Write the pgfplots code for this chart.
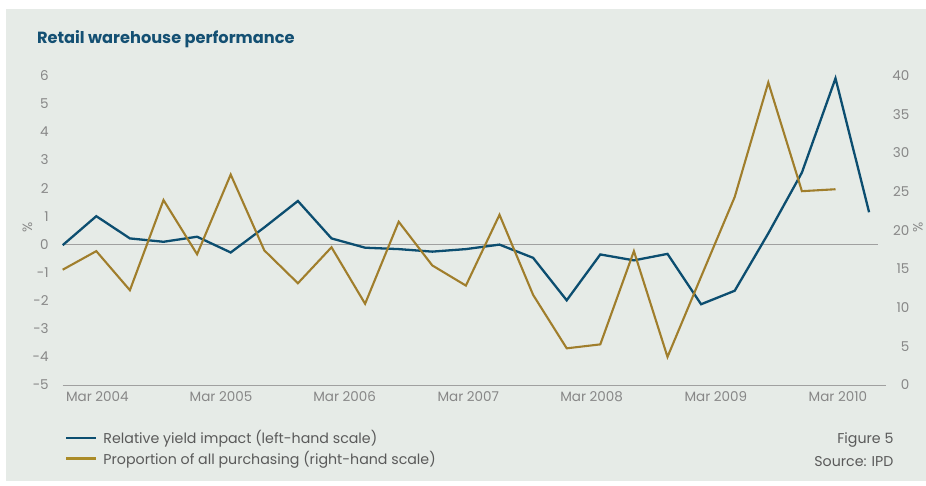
\documentclass[border=0pt]{standalone}
\usepackage{fontspec}
\setmainfont{Poppins}
\usepackage{pgfplots}
\usepackage{pgfplotstable}
\pgfplotsset{compat=1.18}
\definecolor{bg}{RGB}{230,235,231}
\definecolor{cblue}{RGB}{12,78,112}
\definecolor{cgold}{RGB}{160,126,44}
\definecolor{tgray}{RGB}{135,135,135}
\definecolor{lgray}{RGB}{160,160,160}
\definecolor{ttl}{RGB}{20,80,115}
\definecolor{txt}{RGB}{90,90,90}

\pgfplotstableread{
x y
0 -0.03
1 1.00
2 0.21
3 0.09
4 0.27
5 -0.29
6 0.60
7 1.54
8 0.21
9 -0.12
10 -0.17
11 -0.26
12 -0.17
13 -0.01
14 -0.48
15 -1.99
16 -0.36
17 -0.57
18 -0.34
19 -2.13
20 -1.65
21 0.39
22 2.55
23 5.90
24 1.14
}\yieldtab

\pgfplotstableread{
x y
0 14.9
1 17.3
2 12.25
3 23.9
4 16.9
5 27.2
6 17.4
7 13.15
8 17.8
9 10.5
10 21.1
11 15.45
12 12.85
13 22.0
14 11.65
15 4.74
16 5.25
17 17.3
18 3.63
19 14.0
20 24.3
21 39.1
22 25.05
23 25.3
}\proptab

\pgfplotsset{
  common/.style={
    scale only axis, width=823.2pt, height=309.5pt,
    at={(62.7pt,100pt)}, anchor=south west,
    xmin=0, xmax=24.5,
    axis line style={draw=none},
    major tick length=0pt,
    tick label style={font=\fontsize{13.5}{15}\selectfont, text=tgray},
    clip=false,
  }
}

\begin{document}
\begin{tikzpicture}
\useasboundingbox (0pt,0pt) rectangle (926pt,485pt);
\fill[white] (0pt,0pt) rectangle (926pt,485pt);
\fill[bg] (6pt,4pt) rectangle (926pt,476pt);
\node[anchor=base west, font=\bfseries\fontsize{16.2}{18}\selectfont, text=ttl] at (33.5pt,441pt) {Retail warehouse performance};

\begin{axis}[common,
  axis y line*=left, axis x line*=bottom,
  ymin=-5, ymax=6,
  ytick={-5,-4,-3,-2,-1,0,1,2,3,4,5,6},
  yticklabels={-5,-4,-3,-2,-1,0,1,2,3,4,5,6},
  yticklabel style={xshift=-10.5pt},
  xtick={1.03,4.71,8.39,12.07,15.74,19.44,23.07},
  xticklabels={Mar 2004,Mar 2005,Mar 2006,Mar 2007,Mar 2008,Mar 2009,Mar 2010},
  xticklabel style={yshift=-3.5pt},
  ylabel={\%},
  every axis y label/.style={at={(axis description cs:-0.043,0.51)}, anchor=center, rotate=90, font=\fontsize{13.5}{15}\selectfont, text=tgray},
  legend style={at={(axis description cs:-0.001,-0.134)}, anchor=north west, draw=none, fill=none, font=\fontsize{14.2}{16}\selectfont, text=txt, row sep=1.5pt},
  legend cell align=left,
  legend image code/.code={\draw[#1, line width=2.5pt] (0pt,0pt) -- (30pt,0pt); \path (34pt,0pt);},
]
\draw[lgray, line width=1pt] (rel axis cs:0,0) -- (rel axis cs:1,0);
\draw[lgray, line width=0.8pt] (axis cs:0,0) -- (axis cs:24.27,0);
\addplot[cblue, line width=2.3pt, no markers] table[x=x,y=y] {\yieldtab};
\addlegendentry{Relative yield impact (left-hand scale)}
\addlegendimage{color=cgold!90!yellow}
\addlegendentry{Proportion of all purchasing (right-hand scale)}
\end{axis}

\begin{axis}[common,
  axis y line*=right, axis x line=none,
  ymin=0, ymax=40,
  ytick={0,5,10,15,20,25,30,35,40},
  yticklabels={0,5,10,15,20,25,30,35,40},
  yticklabel style={anchor=east, xshift=27pt},
  xtick=\empty,
  ylabel={\%},
  every axis y label/.style={at={(axis description cs:1.039,0.51)}, anchor=center, rotate=90, font=\fontsize{13.5}{15}\selectfont, text=tgray},
]
\addplot[cgold, line width=2.1pt, no markers] table[x=x,y=y] {\proptab};
\end{axis}

\node[anchor=east, font=\fontsize{14.2}{16}\selectfont, text=txt] at (897pt,45pt) {Figure 5};
\node[anchor=east, font=\fontsize{14.2}{16}\selectfont, text=txt] at (897pt,23pt) {Source: IPD};
\end{tikzpicture}
\end{document}
